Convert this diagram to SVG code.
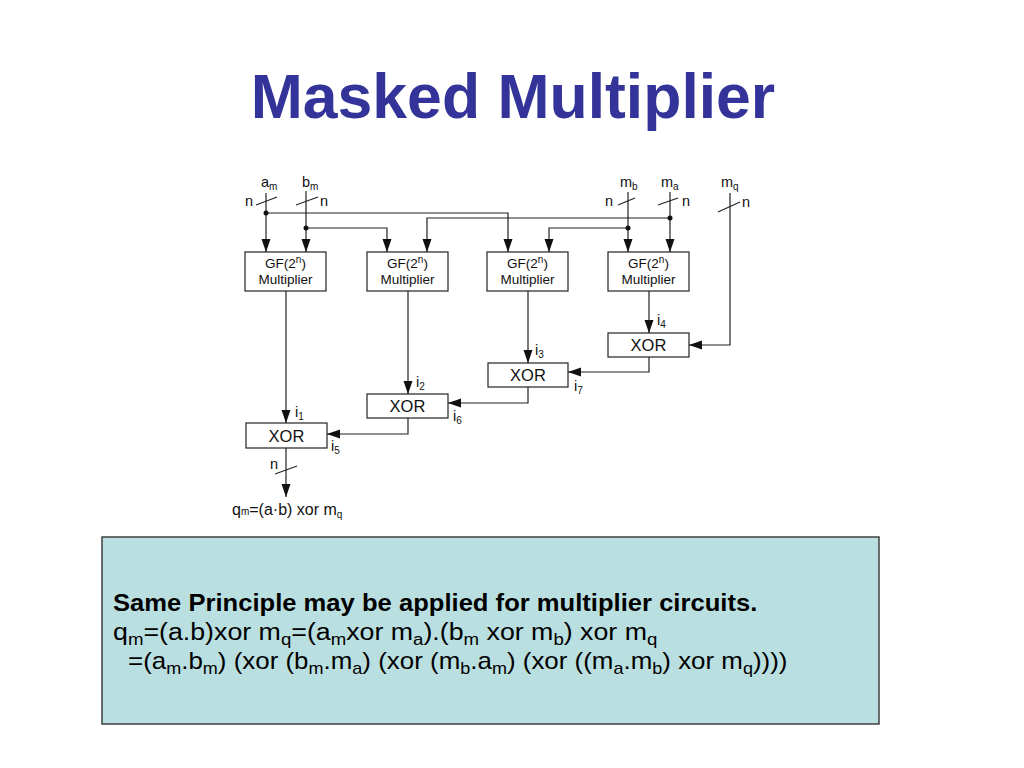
<svg xmlns="http://www.w3.org/2000/svg" width="1024" height="768" viewBox="0 0 1024 768">
<defs>
<marker id="ah" markerUnits="userSpaceOnUse" markerWidth="14" markerHeight="10" refX="13" refY="4.5" orient="auto">
<path d="M0,0 L13,4.5 L0,9 z" fill="#111"/>
</marker>
<style>
.t{font-family:"Liberation Sans",Arial,sans-serif;fill:#111}
.lbl{font-size:14.5px}
.sub{font-size:10px}
.box{fill:#fff;stroke:#222;stroke-width:1.2}
.gf{font-size:13.5px;text-anchor:middle}
.xor{font-size:16.5px;text-anchor:middle}
.wire{fill:none;stroke:#222;stroke-width:1.2}
.arr{marker-end:url(#ah)}
.dot{fill:#111}
.note{font-family:"Liberation Sans",Arial,sans-serif;font-size:23px;fill:#000}
.ns{font-size:16px}
</style>
</defs>
<rect width="1024" height="768" fill="#fff"/>
<text x="513" y="118" text-anchor="middle" font-family="Liberation Sans, Arial, sans-serif" font-weight="bold" font-size="62.5" fill="#333399">Masked Multiplier</text>

<g id="inputs">
<text class="t lbl" x="261" y="187">a<tspan class="sub" dy="3">m</tspan></text>
<text class="t lbl" x="302" y="187">b<tspan class="sub" dy="3">m</tspan></text>
<text class="t lbl" x="620" y="187">m<tspan class="sub" dy="3">b</tspan></text>
<text class="t lbl" x="661" y="187">m<tspan class="sub" dy="3">a</tspan></text>
<text class="t lbl" x="721" y="187">m<tspan class="sub" dy="3">q</tspan></text>
<text class="t lbl" x="245" y="206">n</text>
<text class="t lbl" x="320" y="206">n</text>
<text class="t lbl" x="605" y="206">n</text>
<text class="t lbl" x="682" y="206">n</text>
<text class="t lbl" x="742" y="207">n</text>
</g>

<g id="connectors">
<path class="wire arr" d="M266,193 V252"/>
<path class="wire arr" d="M266,213 H508 V252"/>
<path class="wire arr" d="M306,191 V252"/>
<path class="wire arr" d="M306,228 H387 V252"/>
<path class="wire arr" d="M670,192 V252"/>
<path class="wire arr" d="M670,218 H427 V252"/>
<path class="wire arr" d="M628,192 V252"/>
<path class="wire arr" d="M628,228 H549 V252"/>
<path class="wire arr" d="M730,193 V345 H689"/>
<path class="wire arr" d="M286,291 V423"/>
<path class="wire arr" d="M408,291 V394"/>
<path class="wire arr" d="M528,291 V363"/>
<path class="wire arr" d="M649,291 V333"/>
<path class="wire arr" d="M649,357 V372 H568"/>
<path class="wire arr" d="M528,387 V403 H448"/>
<path class="wire arr" d="M408,418 V434 H327"/>
<path class="wire arr" d="M286,448 V497"/>
<line class="wire" x1="256" y1="205" x2="277" y2="197"/>
<line class="wire" x1="296" y1="205" x2="318" y2="197"/>
<line class="wire" x1="618" y1="205" x2="635" y2="198"/>
<line class="wire" x1="658" y1="205" x2="678" y2="198"/>
<line class="wire" x1="718" y1="212" x2="740" y2="202"/>
<line class="wire" x1="275" y1="474" x2="297" y2="466"/>
<circle class="dot" cx="266" cy="213" r="2.5"/>
<circle class="dot" cx="306" cy="228" r="2.5"/>
<circle class="dot" cx="670" cy="218" r="2.5"/>
<circle class="dot" cx="628" cy="228" r="2.5"/>
<text class="t lbl" x="295" y="417">i<tspan class="sub" dy="3">1</tspan></text>
<text class="t lbl" x="416" y="387">i<tspan class="sub" dy="3">2</tspan></text>
<text class="t lbl" x="535" y="355">i<tspan class="sub" dy="3">3</tspan></text>
<text class="t lbl" x="657" y="325">i<tspan class="sub" dy="3">4</tspan></text>
<text class="t lbl" x="331" y="451">i<tspan class="sub" dy="3">5</tspan></text>
<text class="t lbl" x="453" y="421">i<tspan class="sub" dy="3">6</tspan></text>
<text class="t lbl" x="574" y="391">i<tspan class="sub" dy="3">7</tspan></text>
<text class="t lbl" x="270" y="469">n</text>
</g>

<g id="mult1"><rect class="box" x="245" y="252" width="81" height="39"/>
<text class="t gf" x="285.5" y="268">GF(2<tspan class="sub" dy="-5">n</tspan><tspan dy="5">)</tspan></text>
<text class="t gf" x="285.5" y="284">Multiplier</text></g>
<g id="mult2"><rect class="box" x="367" y="252" width="81" height="39"/>
<text class="t gf" x="407.5" y="268">GF(2<tspan class="sub" dy="-5">n</tspan><tspan dy="5">)</tspan></text>
<text class="t gf" x="407.5" y="284">Multiplier</text></g>
<g id="mult3"><rect class="box" x="487" y="252" width="81" height="39"/>
<text class="t gf" x="527.5" y="268">GF(2<tspan class="sub" dy="-5">n</tspan><tspan dy="5">)</tspan></text>
<text class="t gf" x="527.5" y="284">Multiplier</text></g>
<g id="mult4"><rect class="box" x="608" y="252" width="81" height="39"/>
<text class="t gf" x="648.5" y="268">GF(2<tspan class="sub" dy="-5">n</tspan><tspan dy="5">)</tspan></text>
<text class="t gf" x="648.5" y="284">Multiplier</text></g>

<g id="xor4"><rect class="box" x="608" y="333" width="81" height="24"/><text class="t xor" x="648.5" y="351">XOR</text></g>
<g id="xor3"><rect class="box" x="488" y="363" width="80" height="24"/><text class="t xor" x="528" y="381">XOR</text></g>
<g id="xor2"><rect class="box" x="367" y="394" width="81" height="24"/><text class="t xor" x="407.5" y="412">XOR</text></g>
<g id="xor1"><rect class="box" x="246" y="423" width="81" height="25"/><text class="t xor" x="286.5" y="442">XOR</text></g>

<g id="output"><text class="t" font-size="16" x="232" y="515">q<tspan class="sub" dy="0">m</tspan>=(a·b) xor m<tspan class="sub" dy="3">q</tspan></text></g>

<g id="notebox">
<rect x="102" y="537" width="777" height="187" fill="#badfe0" stroke="#404040" stroke-width="1.5"/>
<text class="note" transform="matrix(1.113,0,0,1,113,0)" x="0" y="611" font-weight="bold">Same Principle may be applied for multiplier circuits.</text>
<text class="note" transform="matrix(1.164,0,0,1,113,0)" x="0" y="640">q<tspan class="ns" dy="5">m</tspan><tspan dy="-5">=(a.b)xor m</tspan><tspan class="ns" dy="5">q</tspan><tspan dy="-5">=(a</tspan><tspan class="ns" dy="5">m</tspan><tspan dy="-5">xor m</tspan><tspan class="ns" dy="5">a</tspan><tspan dy="-5">).(b</tspan><tspan class="ns" dy="5">m</tspan><tspan dy="-5"> xor m</tspan><tspan class="ns" dy="5">b</tspan><tspan dy="-5">) xor m</tspan><tspan class="ns" dy="5">q</tspan></text>
<text class="note" transform="matrix(1.127,0,0,1,128,0)" x="0" y="669">=(a<tspan class="ns" dy="5">m</tspan><tspan dy="-5">.b</tspan><tspan class="ns" dy="5">m</tspan><tspan dy="-5">) (xor (b</tspan><tspan class="ns" dy="5">m</tspan><tspan dy="-5">.m</tspan><tspan class="ns" dy="5">a</tspan><tspan dy="-5">) (xor (m</tspan><tspan class="ns" dy="5">b</tspan><tspan dy="-5">.a</tspan><tspan class="ns" dy="5">m</tspan><tspan dy="-5">) (xor ((m</tspan><tspan class="ns" dy="5">a</tspan><tspan dy="-5">.m</tspan><tspan class="ns" dy="5">b</tspan><tspan dy="-5">) xor m</tspan><tspan class="ns" dy="5">q</tspan><tspan dy="-5">))))</tspan></text>
</g>
</svg>
